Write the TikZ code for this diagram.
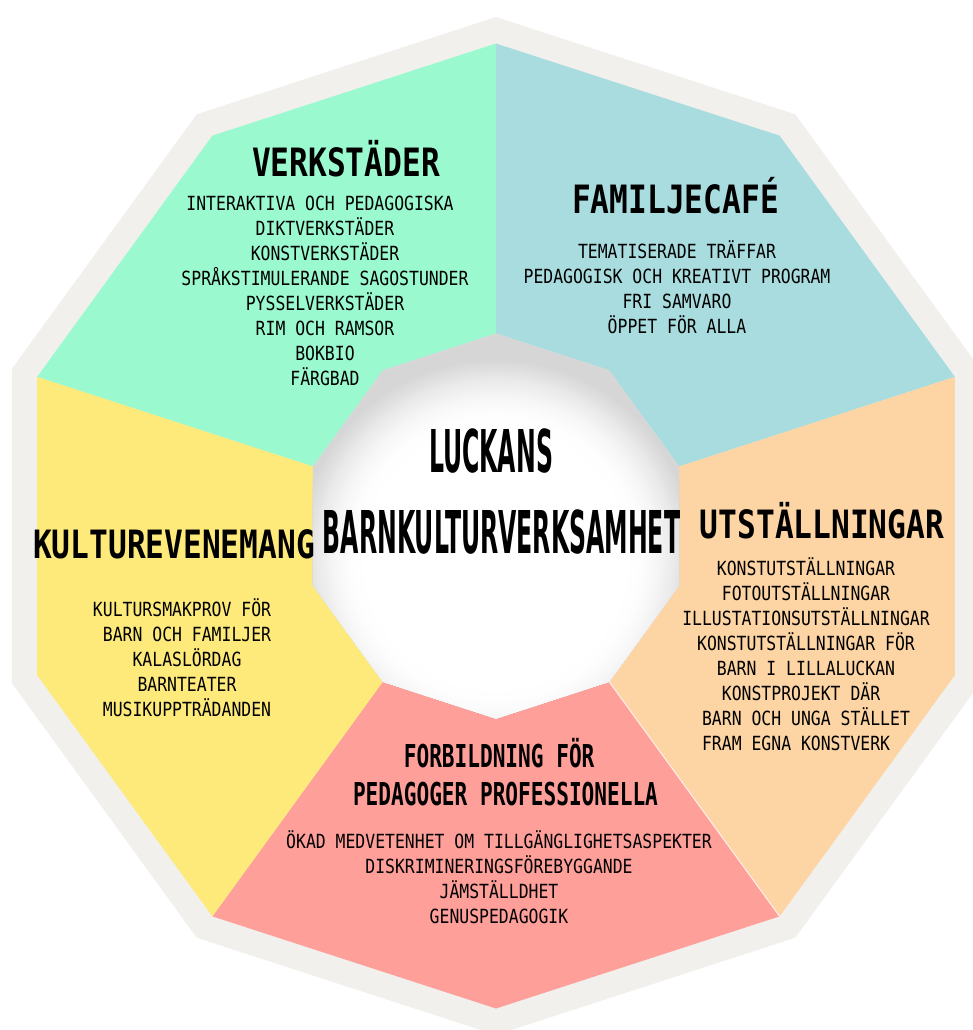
\documentclass[tikz,border=0pt]{standalone}
\usepackage{fontspec}
\newfontfamily\bodyf[FakeStretch=0.843]{DejaVu Sans Mono}
\newfontfamily\titlef[FakeStretch=0.80]{DejaVu Sans Mono}
\newfontfamily\pinkf[FakeStretch=0.67]{DejaVu Sans Mono}
\newfontfamily\centf[FakeStretch=0.40]{DejaVu Sans}
\definecolor{cgray}{HTML}{F1F0ED}
\definecolor{cgreen}{HTML}{9AF9CE}
\definecolor{cblue}{HTML}{A9DCDE}
\definecolor{corange}{HTML}{FDD4A3}
\definecolor{cpink}{HTML}{FE9F9A}
\definecolor{cyellow}{HTML}{FEEA7A}
\definecolor{shgray}{HTML}{D6D6D6}
\begin{document}
\begin{tikzpicture}[x=1pt,y=1pt,
  bodytext/.style={font=\bodyf\fontsize{19.5}{25}\selectfont, align=center, anchor=base, inner sep=0pt, text=black},
  titletext/.style={font=\titlef\bfseries\fontsize{39}{39}\selectfont, anchor=base, inner sep=0pt, text=black},
  pinktitle/.style={font=\pinkf\bfseries\fontsize{31.5}{38}\selectfont, align=center, anchor=base, inner sep=0pt, text=black},
  centertext/.style={font=\centf\bfseries\fontsize{59}{59}\selectfont, anchor=base, inner sep=0pt, text=black}]
\useasboundingbox (0,0) rectangle (973,-1030);
\clip (0,0) rectangle (973,-1030);
\begin{scope}[shift={(496,-526)}]
  % outer grey decagon
  \fill[cgray] (90:509) -- (126:509) -- (162:509) -- (198:509) -- (234:509) -- (270:509) -- (306:509) -- (342:509) -- (18:509) -- (54:509) -- cycle;
  % coloured segments
  \fill[cgreen] (90:482.5) -- (126:482.5) -- (162:482.5) -- (162:192.5) -- (126:192.5) -- (90:192.5) -- cycle;
  \fill[cblue] (18:482.5) -- (54:482.5) -- (90:482.5) -- (90:192.5) -- (54:192.5) -- (18:192.5) -- cycle;
  \fill[corange] (306:482.5) -- (342:482.5) -- (18:482.5) -- (18:192.5) -- (342:192.5) -- (306:192.5) -- cycle;
  \fill[cpink] (234:482.5) -- (270:482.5) -- (306:482.5) -- (306:192.5) -- (270:192.5) -- (234:192.5) -- cycle;
  \fill[cyellow] (162:482.5) -- (198:482.5) -- (234:482.5) -- (234:192.5) -- (198:192.5) -- (162:192.5) -- cycle;
  \draw[white, line width=1pt, opacity=0.8] (306:192.5) -- (306:482.5);
  % central decagon: grey base, then a lowered white glow built from rings
  \fill[shgray] (90:192.5) -- (126:192.5) -- (162:192.5) -- (198:192.5) -- (234:192.5) -- (270:192.5) -- (306:192.5) -- (342:192.5) -- (18:192.5) -- (54:192.5) -- cycle;
  \begin{scope}
    \clip (90:192.5) -- (126:192.5) -- (162:192.5) -- (198:192.5) -- (234:192.5) -- (270:192.5) -- (306:192.5) -- (342:192.5) -- (18:192.5) -- (54:192.5) -- cycle;
    \foreach \i in {0,...,30} {
      \pgfmathsetmacro\rr{200-\i*2.2}
      \pgfmathtruncatemacro\pp{100*sin(3*\i)}
      \fill[white!\pp!shgray] (0,-32) circle (\rr);
    }
  \end{scope}
\end{scope}
% centre title
\node[centertext] (ctitleA) at (491,-472) {LUCKANS};
\node[centertext] (ctitleB) at (501.5,-553) {BARNKULTURVERKSAMHET};
% titles
\node[titletext] (tverk) at (346,-176) {VERKSTÄDER};
\node[titletext] (tfam) at (675.5,-213) {FAMILJECAFÉ};
\node[titletext] (tkult) at (174,-558) {KULTUREVENEMANG};
\node[titletext] (tutst) at (822,-538) {UTSTÄLLNINGAR};
\node[pinktitle] (tforb) at (505.5,-805) {FORBILDNING FÖR\hphantom{X}\\PEDAGOGER PROFESSIONELLA};
% bodies (base anchor = baseline of the last line)
\node[bodytext] (bverk) at (325,-385) {INTERAKTIVA OCH PEDAGOGISKA\hphantom{X}\\DIKTVERKSTÄDER\\KONSTVERKSTÄDER\\SPRÅKSTIMULERANDE SAGOSTUNDER\\PYSSELVERKSTÄDER\\RIM OCH RAMSOR\\BOKBIO\\FÄRGBAD};
\node[bodytext] (bfam) at (677,-333) {TEMATISERADE TRÄFFAR\\PEDAGOGISK OCH KREATIVT PROGRAM\\FRI SAMVARO\\ÖPPET FÖR ALLA};
\node[bodytext] (bkult) at (187,-716) {KULTURSMAKPROV FÖR\hphantom{X}\\BARN OCH FAMILJER\\KALASLÖRDAG\\BARNTEATER\\MUSIKUPPTRÄDANDEN};
\node[bodytext] (butst) at (806,-750) {KONSTUTSTÄLLNINGAR\\FOTOUTSTÄLLNINGAR\\ILLUSTATIONSUTSTÄLLNINGAR\\KONSTUTSTÄLLNINGAR FÖR\\BARN I LILLALUCKAN\\KONSTPROJEKT DÄR\hphantom{X}\\BARN OCH UNGA STÄLLET\\FRAM EGNA KONSTVERK\hphantom{XX}};
\node[bodytext] (bforb) at (499,-923) {ÖKAD MEDVETENHET OM TILLGÄNGLIGHETSASPEKTER\\DISKRIMINERINGSFÖREBYGGANDE\\JÄMSTÄLLDHET\\GENUSPEDAGOGIK};
\end{tikzpicture}
\end{document}
